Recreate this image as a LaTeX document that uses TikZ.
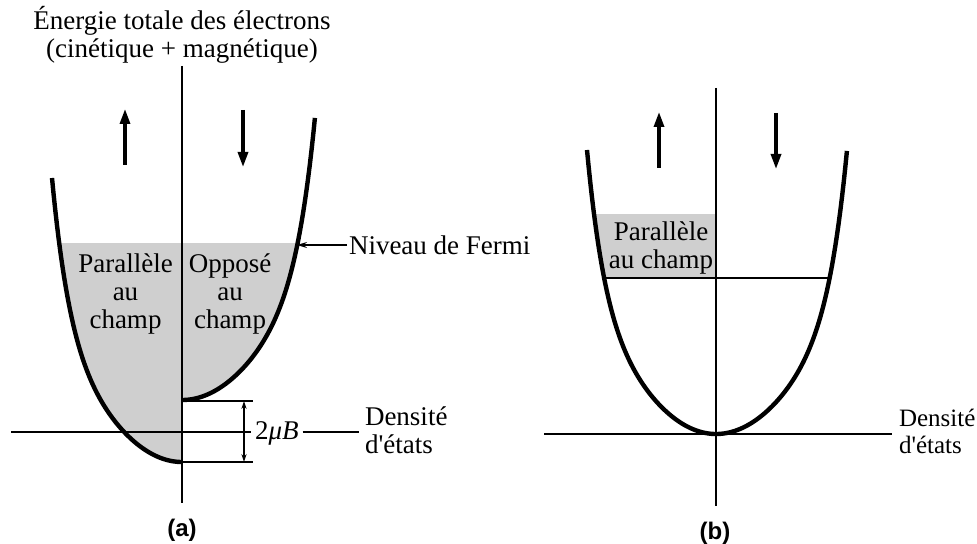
\documentclass[tikz,border=0pt]{standalone}
\usepackage{fontspec}
\setmainfont{Liberation Serif}
\newfontfamily\labelsans{Liberation Sans}
\usetikzlibrary{arrows.meta}
\begin{document}
\begin{tikzpicture}[x=0.5pt,y=-0.5pt,
  declare function={prof(\u)=0.53*\u*\u+0.47*(\u*\u)^4;},
  curve/.style={line width=2.2pt},
  axis/.style={line width=0.7pt},
  shadefill/.style={fill=black!19},
  txt/.style={font=\fontsize{13.5}{14}\selectfont, inner sep=0pt},
  spin/.style={line width=1.6pt, -{Triangle[length=7.5pt,width=5pt]}},
  thinarrow/.style={line width=0.6pt, -{Stealth[length=5pt,width=3pt]}},
  dimarrow/.style={line width=0.6pt, {Stealth[length=4pt,width=2.6pt]}-{Stealth[length=4pt,width=2.6pt]}},
  panel/.style={font=\labelsans\bfseries\fontsize{12}{14}\selectfont, inner sep=0pt}]
\useasboundingbox (0,0) rectangle (977,544);

% ---------------- (a) ----------------
\begin{scope}
  \clip (0,244) rectangle (182,470);
  \fill[shadefill] plot[domain=-1:0, samples=80] ({182+130*\x},{462-284*prof(\x)}) -- (182,178) -- cycle;
\end{scope}
\begin{scope}
  \clip (182,244) rectangle (340,470);
  \fill[shadefill] plot[domain=0:1, samples=80] ({182+133*\x},{400-283*prof(\x)}) -- (182,117) -- cycle;
\end{scope}

\coordinate (aTop) at (182,66);
\coordinate (aBot) at (182,503);
\coordinate (aL) at (11,432);
\coordinate (dTop) at (182,401);
\coordinate (dBot) at (182,462);
\coordinate (dTopE) at (253,401);
\coordinate (dBotE) at (253,462);
\coordinate (dArT) at (244,401);
\coordinate (dArB) at (244,462);
\coordinate (fermiTip) at (297,245);

\draw[axis] (aTop) -- (aBot);
\draw[axis] (dTop) -- (dTopE);
\draw[axis] (dBot) -- (dBotE);
\draw[dimarrow] (dArT) -- (dArB);

\draw[curve] plot[domain=-1:0, samples=80] ({182+130*\x},{462-284*prof(\x)});
\draw[curve] plot[domain=0:1, samples=80] ({182+133*\x},{400-283*prof(\x)});

\node[txt, align=center] (title) at (182,35) {\fontsize{13.5}{12.5}\selectfont Énergie totale des électrons\\(cinétique + magnétique)};

\coordinate (aUpS) at (125,165);
\coordinate (aUpE) at (125,109);
\coordinate (aDnS) at (243,110);
\coordinate (aDnE) at (243,167);
\draw[spin] (aUpS) -- (aUpE);
\draw[spin] (aDnS) -- (aDnE);

\node[txt, align=center] (parA) at (125.5,294) {Parallèle\\au\\champ};
\node[txt, align=center] (oppA) at (230,294) {Opposé\\au\\champ};

\node[txt, anchor=base west, outer xsep=1pt] (fermi) at (347,255) {Niveau de Fermi};
\draw[thinarrow] (fermi.west |- fermiTip) -- (fermiTip);

\node[txt, anchor=base west, outer xsep=2pt] (mu) at (251,439) {2\textit{μB}};
\node[txt, anchor=west, align=left, outer xsep=3pt] (densA) at (359,430) {Densité\\d\textquotesingle états};
\draw[axis] (aL) -- (aL -| mu.west);
\draw[axis] (aL -| mu.east) -- (aL -| densA.west);

\node[panel] (labA) at (182,530) {(a)};

% ---------------- (b) ----------------
\begin{scope}
  \clip (580,215) rectangle (716,278);
  \fill[shadefill] plot[domain=-1:0, samples=80] ({716+129*\x},{434-284*prof(\x)}) -- (716,150) -- cycle;
\end{scope}

\coordinate (bTop) at (716,88);
\coordinate (bBot) at (716,506);
\coordinate (bL) at (544,434);
\coordinate (bFL) at (604,278);
\coordinate (bFR) at (829.5,278);

\draw[axis] (bTop) -- (bBot);
\draw[axis] (bFL) -- (bFR);

\draw[curve] plot[domain=-1:0, samples=80] ({716+129*\x},{434-284*prof(\x)});
\draw[curve] plot[domain=0:1, samples=80] ({716+131*\x},{434-284*prof(\x)});

\coordinate (bUpS) at (659,168);
\coordinate (bUpE) at (659,112);
\coordinate (bDnS) at (776,113);
\coordinate (bDnE) at (776,169);
\draw[spin] (bUpS) -- (bUpE);
\draw[spin] (bDnS) -- (bDnE);

\node[txt, align=center] (parB) at (661,248) {Parallèle\\au champ};

\node[txt, anchor=west, align=left, outer xsep=3.5pt, font=\fontsize{12.5}{13.5}\selectfont] (densB) at (892,431) {Densité\\d\textquotesingle états};
\draw[axis] (bL) -- (bL -| densB.west);

\node[panel] (labB) at (715,533) {(b)};
\end{tikzpicture}
\end{document}
